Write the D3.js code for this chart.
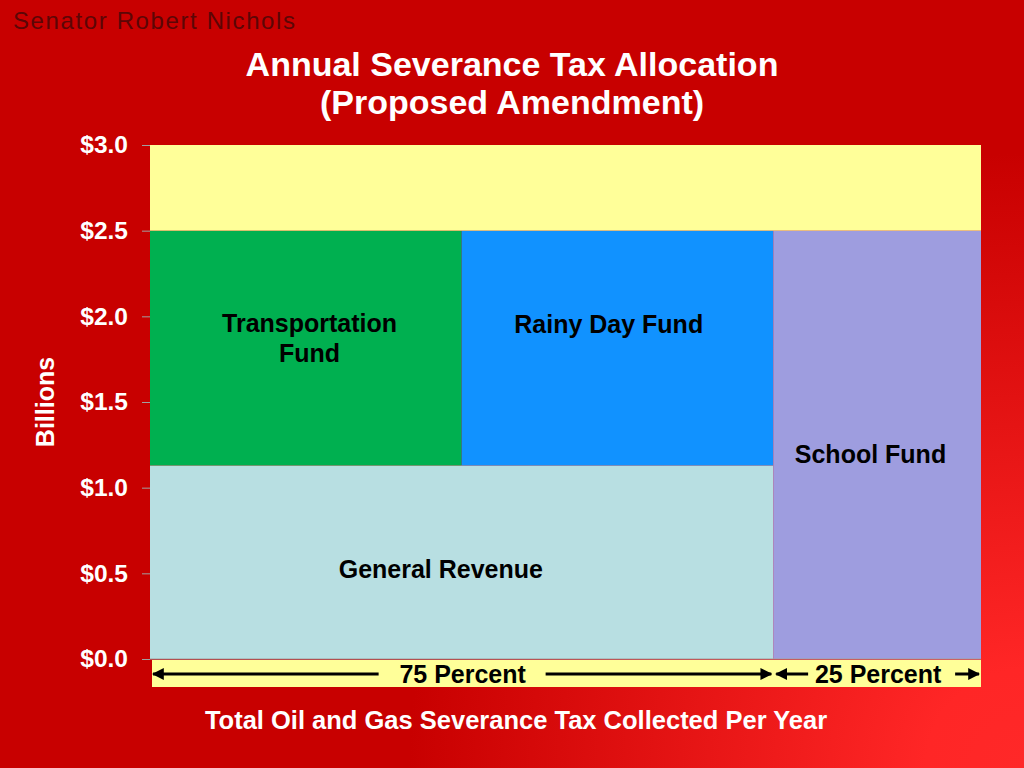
<!DOCTYPE html>
<html>
<head>
<meta charset="utf-8">
<script src="https://cdn.jsdelivr.net/npm/d3@7"></script>
<style>
  body { margin: 0; }
  text { font-family: "Liberation Sans", Arial, sans-serif; }
</style>
</head>
<body>
<div id="chart"></div>
<script>
// Allocation blocks: x in percent of total collected, y in billions of dollars
var funds   = ["General Revenue", "Transportation Fund", "Rainy Day Fund", "School Fund", "Surplus"];
var pctFrom = [0,    0,    37.5, 75,  0];
var pctTo   = [75,   37.5, 75,   100, 100];
var valFrom = [0,    1.13, 1.13, 0,   2.5];
var valTo   = [1.13, 2.5,  2.5,  2.5, 3.0];
var colors  = ["#b8dfe2", "#00b050", "#1192ff", "#9e9ddf", "#ffff99"];
var yTicks  = [0, 0.5, 1.0, 1.5, 2.0, 2.5, 3.0];
var shareLabels = ["75 Percent", "25 Percent"];
var shareFrom   = [0, 75];
var shareTo     = [75, 100];

var W = 1024, H = 768;
var margin = {left: 150, right: 43, top: 145, bottom: 109};

var svg = d3.select("#chart").append("svg")
    .attr("width", W).attr("height", H);

// background
var defs = svg.append("defs");
var grad = defs.append("radialGradient").attr("id", "bg")
    .attr("gradientUnits", "userSpaceOnUse")
    .attr("cx", W).attr("cy", H).attr("r", 820);
grad.append("stop").attr("offset", "0").attr("stop-color", "#ff2828");
grad.append("stop").attr("offset", "0.12").attr("stop-color", "#ff2626");
grad.append("stop").attr("offset", "0.75").attr("stop-color", "#c80000");
grad.append("stop").attr("offset", "1").attr("stop-color", "#c80000");
svg.append("rect").attr("width", W).attr("height", H).attr("fill", "url(#bg)");

var marker = defs.append("marker").attr("id", "arrow")
    .attr("viewBox", "0 0 10 10").attr("refX", 9).attr("refY", 5)
    .attr("markerWidth", 4).attr("markerHeight", 4)
    .attr("orient", "auto-start-reverse");
marker.append("path").attr("d", "M0,0 L10,5 L0,10 z").attr("fill", "black");

svg.append("text").attr("x", 13).attr("y", 29)
    .attr("font-size", 24).attr("fill", "#5c0606")
    .attr("textLength", 282).attr("lengthAdjust", "spacing")
    .text("Senator Robert Nichols");

svg.append("text").attr("x", 512).attr("y", 76)
    .attr("text-anchor", "middle").attr("font-size", 34).attr("font-weight", "bold")
    .attr("fill", "white").text("Annual Severance Tax Allocation");
svg.append("text").attr("x", 512).attr("y", 114)
    .attr("text-anchor", "middle").attr("font-size", 34).attr("font-weight", "bold")
    .attr("fill", "white").text("(Proposed Amendment)");

var x = d3.scaleLinear().domain([0, 100]).range([margin.left, W - margin.right]);
var y = d3.scaleLinear().domain([0, 3]).range([H - margin.bottom, margin.top]);

// blocks
var blocks = funds.map(function(f, i) {
    return {name: f, x0: pctFrom[i], x1: pctTo[i], y0: valFrom[i], y1: valTo[i], color: colors[i]};
});

svg.append("g").selectAll("rect").data(blocks).enter().append("rect")
    .attr("x", function(d) { return x(d.x0); })
    .attr("y", function(d) { return y(d.y1); })
    .attr("width", function(d) { return x(d.x1) - x(d.x0); })
    .attr("height", function(d) { return y(d.y0) - y(d.y1); })
    .attr("fill", function(d) { return d.color; });

// block labels
var labelPos = {
    "General Revenue":     {px: 35,   v: 0.47,  lines: ["General Revenue"]},
    "Transportation Fund": {px: 19.2, v: 1.91,  lines: ["Transportation", "Fund"]},
    "Rainy Day Fund":      {px: 55.2, v: 1.90,  lines: ["Rainy Day Fund"]},
    "School Fund":         {px: 86.7, v: 1.145, lines: ["School Fund"]}
};
blocks.forEach(function(d) {
    var p = labelPos[d.name];
    if (!p) return;
    var t = svg.append("text").attr("text-anchor", "middle")
        .attr("font-size", 25).attr("font-weight", "bold").attr("fill", "black");
    p.lines.forEach(function(line, k) {
        t.append("tspan").attr("x", x(p.px)).attr("y", y(p.v) + k * 30).text(line);
    });
});

// y axis
var yAxis = svg.append("g").attr("transform", "translate(" + margin.left + ",0)")
    .call(d3.axisLeft(y).tickValues(yTicks).tickSize(8).tickPadding(14)
        .tickFormat(function(d) { return "$" + d.toFixed(1); }));
yAxis.select(".domain").remove();
yAxis.selectAll("line").attr("stroke", "#a0a0a0");
yAxis.selectAll("text").attr("fill", "white").attr("font-size", 24.5)
    .attr("font-weight", "bold").attr("font-family", "Liberation Sans, Arial, sans-serif");

svg.append("text").attr("transform", "translate(54,402) rotate(-90)")
    .attr("text-anchor", "middle").attr("font-size", 25).attr("font-weight", "bold")
    .attr("fill", "white").text("Billions");

// percent strip
var stripTop = y(0) + 1, stripH = 27;
svg.append("rect").attr("x", x(0) + 2).attr("y", stripTop)
    .attr("width", x(100) - x(0) - 2).attr("height", stripH).attr("fill", "#ffff99");
svg.append("line").attr("x1", x(0)).attr("x2", x(100))
    .attr("y1", y(0)).attr("y2", y(0)).attr("stroke", "#a0a0a0");

// label centre offset and gaps left/right of the label text
var stripLayout = [{dx: 1, gapL: 84, gapR: 83}, {dx: 1, gapL: 70, gapR: 77}];
var ay = stripTop + 14;
shareLabels.forEach(function(lbl, i) {
    var a = x(shareFrom[i]), b = x(shareTo[i]);
    var L = stripLayout[i];
    var mid = (a + b) / 2 + L.dx;
    svg.append("text").attr("x", mid).attr("y", ay + 9)
        .attr("text-anchor", "middle").attr("font-size", 25).attr("font-weight", "bold")
        .attr("fill", "black").text(lbl);
    svg.append("line").attr("x1", mid - L.gapL).attr("x2", a + 3)
        .attr("y1", ay).attr("y2", ay)
        .attr("stroke", "black").attr("stroke-width", 3).attr("marker-end", "url(#arrow)");
    svg.append("line").attr("x1", mid + L.gapR).attr("x2", b - 2)
        .attr("y1", ay).attr("y2", ay)
        .attr("stroke", "black").attr("stroke-width", 3).attr("marker-end", "url(#arrow)");
});

svg.append("text").attr("x", 516).attr("y", 729)
    .attr("text-anchor", "middle").attr("font-size", 25.5).attr("font-weight", "bold")
    .attr("fill", "white").text("Total Oil and Gas Severance Tax Collected Per Year");
</script>
</body>
</html>
